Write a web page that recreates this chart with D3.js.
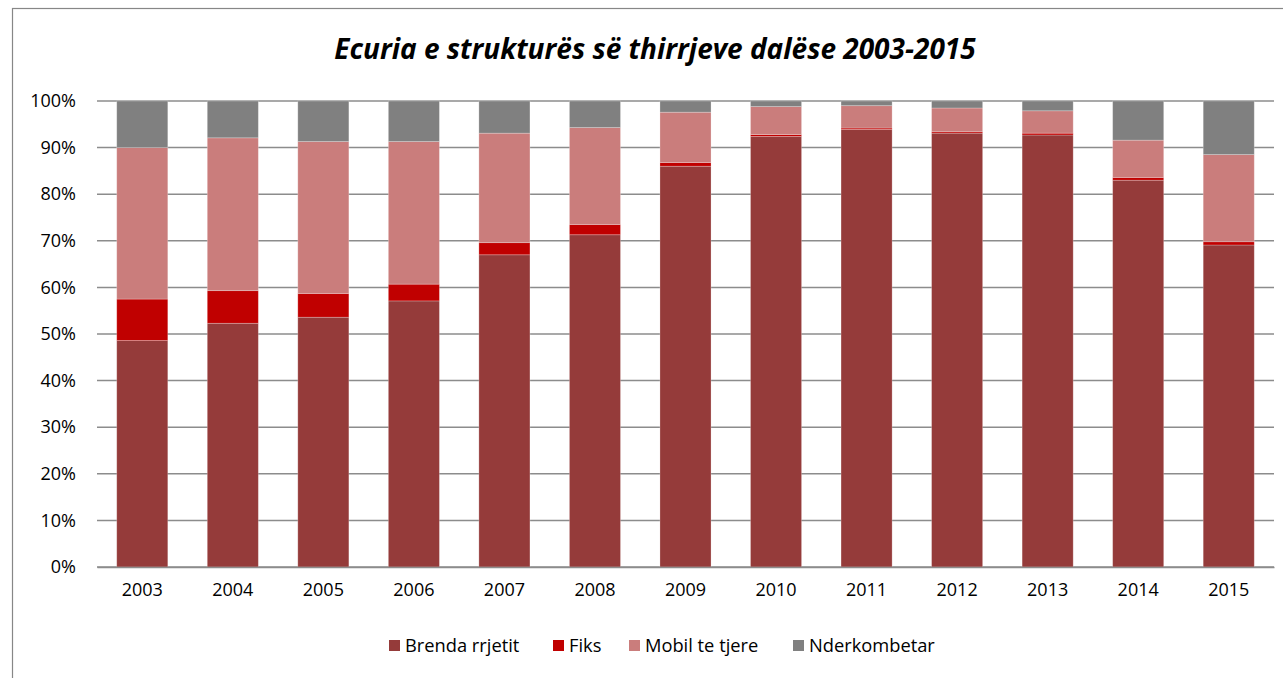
<!DOCTYPE html>
<html><head><meta charset="utf-8">
<script src="https://cdn.jsdelivr.net/npm/d3@7"></script>
<style>body{margin:0;background:#fff}svg{display:block}</style>
</head><body>
<svg id="c" width="1283" height="678"></svg>
<script>
const years = ["2003","2004","2005","2006","2007","2008","2009","2010","2011","2012","2013","2014","2015"];
const seriesNames = ["Brenda rrjetit","Fiks","Mobil te tjere","Nderkombetar"];
const brenda = [48.6,52.3,53.6,57.1,67.0,71.3,86.0,92.4,93.9,93.1,92.7,83.0,69.1];
const fiks = [8.9,7.0,5.1,3.6,2.6,2.2,0.8,0.4,0.3,0.3,0.4,0.6,0.7];
const mobil = [32.5,32.8,32.6,30.6,23.5,20.8,10.8,6.0,4.8,5.1,4.8,8.0,18.7];
const nderk = [10.0,7.9,8.7,8.7,6.9,5.7,2.4,1.2,1.0,1.5,2.1,8.4,11.5];
const yTicks = [0,10,20,30,40,50,60,70,80,90,100];
const colors = ["#953B3A","#C00000","#CA7D7C","#808080"];
const title = "Ecuria e strukturës së thirrjeve dalëse 2003-2015";

const svg = d3.select("#c");
const font = "'Open Sans', sans-serif";
svg.append("rect").attr("x",12.5).attr("y",8.5).attr("width",1300).attr("height",700)
  .attr("fill","#fff").attr("stroke","#878787").attr("stroke-width",1.2);

const x = d3.scaleBand().domain(years).range([97,1274]).paddingInner(0.436).paddingOuter(0.218);
const y = d3.scaleLinear().domain([0,100]).range([567,101]);

// gridlines
svg.append("g").selectAll("line").data(yTicks).join("line")
  .attr("x1",97).attr("x2",1274).attr("y1",d=>y(d)).attr("y2",d=>y(d))
  .attr("stroke","#8C8C8C").attr("stroke-width",1.5);

const rows = years.map((yr,i)=>({year:yr,"Brenda rrjetit":brenda[i],"Fiks":fiks[i],"Mobil te tjere":mobil[i],"Nderkombetar":nderk[i]}));
const stack = d3.stack().keys(seriesNames)(rows);

svg.append("g").selectAll("g").data(stack).join("g").attr("fill",(d,i)=>colors[i])
  .selectAll("rect").data(d=>d).join("rect")
  .attr("x",d=>x(d.data.year)).attr("width",x.bandwidth())
  .attr("y",d=>y(d[1])).attr("height",d=>y(d[0])-y(d[1]))
  .attr("stroke","rgba(255,255,255,0.3)").attr("stroke-width",0.8);

// y axis
const yAxis = svg.append("g").attr("transform","translate(97,0)")
  .call(d3.axisLeft(y).tickValues(yTicks).tickFormat(d=>d+"%").tickSize(0).tickPadding(21));
yAxis.select(".domain").remove();
yAxis.selectAll("text").attr("font-family",font).attr("font-size",18).attr("fill","#000");

// x axis
const xAxis = svg.append("g").attr("transform","translate(0,567)")
  .call(d3.axisBottom(x).tickSize(0).tickPadding(16));
xAxis.select(".domain").attr("stroke","#8C8C8C").attr("stroke-width",1.5);
xAxis.selectAll("text").attr("font-family",font).attr("font-size",18).attr("fill","#000");

// title
svg.append("text").attr("x",655).attr("y",59).attr("text-anchor","middle")
  .attr("font-family",font).attr("font-size",28).attr("font-weight","bold").attr("font-style","italic")
  .attr("fill","#000").text(title);

// legend
const legX = [389,553,629,793];
const lg = svg.append("g").selectAll("g").data(seriesNames).join("g")
  .attr("transform",(d,i)=>`translate(${legX[i]},640)`);
lg.append("rect").attr("width",11).attr("height",11).attr("fill",(d,i)=>colors[i]);
lg.append("text").attr("x",16).attr("y",12).attr("font-family",font).attr("font-size",18.3).attr("fill","#000").text(d=>d);
</script>
</body></html>
